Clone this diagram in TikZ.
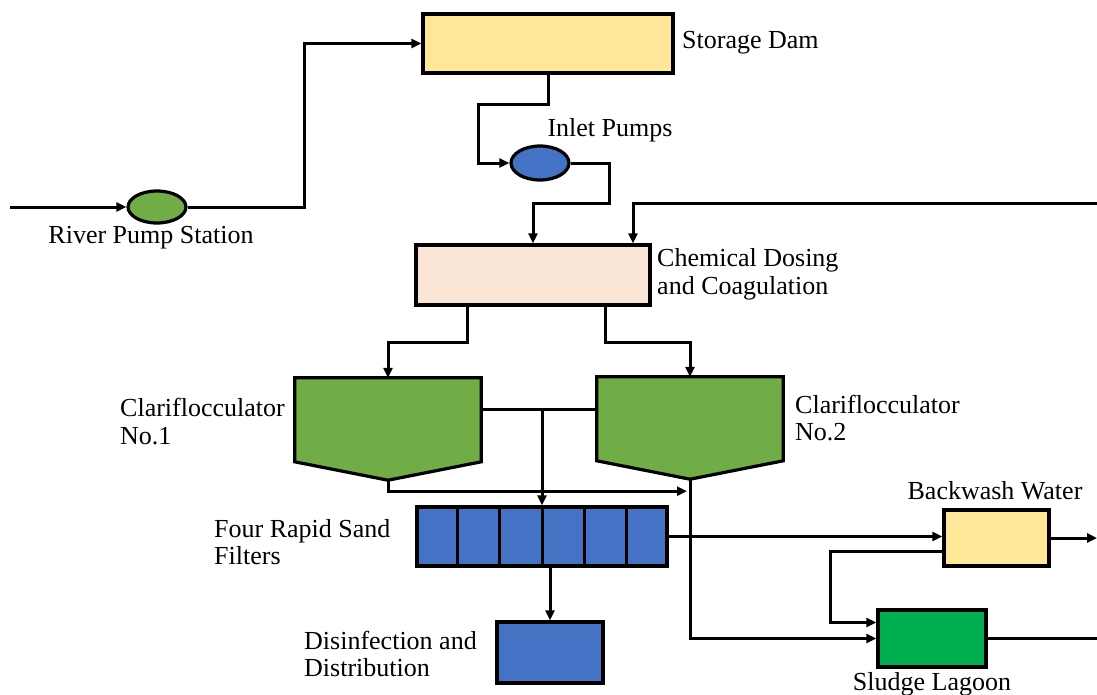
\documentclass[tikz,border=0pt]{standalone}
\usepackage{fontspec}
\setmainfont{Liberation Serif}
\newfontfamily\tnr{Liberation Serif}
\usetikzlibrary{arrows.meta,calc,shapes.geometric}
\definecolor{cyel}{HTML}{FFE699}
\definecolor{cpeach}{HTML}{FBE5D6}
\definecolor{cblue}{HTML}{4472C4}
\definecolor{cgreen}{HTML}{70AD47}
\definecolor{cdgreen}{HTML}{00B050}
\begin{document}
\begin{tikzpicture}[x=1pt,y=-1pt,
  box/.style={draw=black, line width=3.2pt, inner sep=0pt},
  pump/.style={draw=black, line width=3.2pt, ellipse, inner sep=0pt},
  ghost/.style={inner sep=0pt},
  lbl/.style={font=\tnr\fontsize{26}{27.5}\selectfont, inner sep=0pt, align=left},
  line/.style={draw=black, line width=3pt},
  arr/.style={line, -{Triangle[length=10pt,width=9pt]}}
]
\useasboundingbox (0,0) rectangle (1097,694);

% nodes
\node[box, fill=cyel, minimum width=250pt, minimum height=59pt] (dam) at (548,43.5) {};
\node[lbl, anchor=west] (damL) at (682,43) {Storage Dam};

\node[pump, fill=cblue, minimum width=58pt, minimum height=34pt] (ip) at (540,163) {};
\node[lbl] (ipL) at (610,130) {Inlet Pumps};

\node[pump, fill=cgreen, minimum width=58pt, minimum height=32pt] (rp) at (157,207) {};
\node[lbl] (rpL) at (151,238) {River Pump Station};

\node[box, fill=cpeach, minimum width=234pt, minimum height=60pt] (chem) at (533,275) {};
\node[lbl, anchor=west] (chemL) at (657,274.5) {Chemical Dosing\\and Coagulation};

\node[ghost, minimum width=186pt, minimum height=102pt] (c1) at (388,429) {};
\node[ghost, minimum width=186pt, minimum height=102pt] (c2) at (690,428) {};
\foreach \c in {c1,c2}{
  \draw[box, fill=cgreen] (\c.north west) -- (\c.north east) -- ++(0,84) -- (\c.south) -- ($(\c.north west)+(0,84)$) -- cycle;
}
\node[lbl, anchor=west] (c1L) at (120,421.5) {Clariflocculator\\No.1};
\node[lbl, anchor=west] (c2L) at (795,418) {Clariflocculator\\No.2};

\node[box, fill=cblue, minimum width=250pt, minimum height=59pt] (filt) at (542,536.5) {};
\foreach \i in {1,...,5}{
  \draw[line] ($(filt.north west)!\i/6!(filt.north east)$) -- ($(filt.south west)!\i/6!(filt.south east)$);
}
\node[lbl, anchor=west] (filtL) at (214,542) {Four Rapid Sand\\Filters};

\node[box, fill=cblue, minimum width=106pt, minimum height=61pt] (dis) at (550,652.5) {};
\node[lbl, anchor=west] (disL) at (304,654) {Disinfection and\\Distribution};

\node[box, fill=cyel, minimum width=105pt, minimum height=56pt] (bw) at (996.5,538) {};
\node[lbl] (bwL) at (995,491) {Backwash Water};

\node[box, fill=cdgreen, minimum width=108pt, minimum height=57pt] (sl) at (932,638.5) {};
\node[lbl] (slL) at (932,684) {Sludge Lagoon};

% free ends
\coordinate (riverin) at (10,207);
\coordinate (chemin) at (1097,203);
\coordinate (bwout) at (1097,538);
\coordinate (slout) at (1097,638.5);
\coordinate (j) at (542,409);

% connectors
\draw[arr] (riverin) -- (rp.west);
\draw[arr] (rp.east) -- ++(117,0) |- (dam.west);
\draw[arr] (dam.south) -- ++(0,30) -- ++(-70,0) |- (ip.west);
\draw[arr] (ip.east) -- ++(39,0) -- ++(0,40) -| (chem.north);
\draw[arr] (chemin) -| ([xshift=100pt]chem.north);
\draw[arr] ([xshift=-66pt]chem.south) -- ++(0,36) -| (c1.north);
\draw[arr] ([xshift=72pt]chem.south) -- ++(0,36) -| (c2.north);
\draw[line] ([yshift=20pt]c1.east) -- ([yshift=19pt]c2.west);
\draw[arr] (j) -- (filt.north);
\draw[arr] (c1.south) |- ($(c2.south)+(-3,12)$);
\draw[arr] (c2.south) |- (sl.west);
\draw[arr] (filt.south -| dis.north) -- (dis.north);
\draw[arr] (filt.east) -- (filt.east -| bw.west);
\draw[arr] (bw.east) -- (bwout);
\draw[arr] ([yshift=-13pt]bw.west) -- ++(-112,0) |- ([yshift=16pt]sl.west);
\draw[line] (sl.east) -- (slout);
\end{tikzpicture}
\end{document}
